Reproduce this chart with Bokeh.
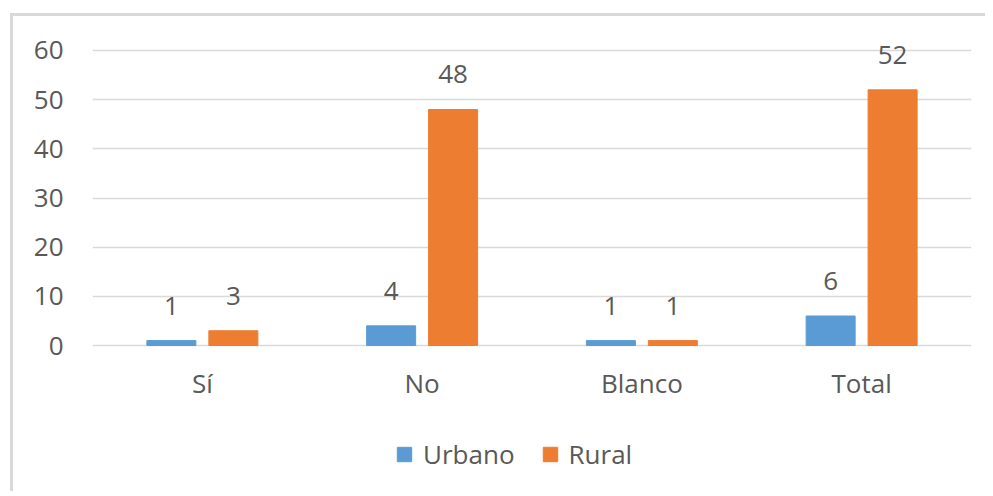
from bokeh.plotting import figure
from bokeh.models import FactorRange, Range1d, Legend, LegendItem, ColumnDataSource, LabelSet
from bokeh.transform import dodge
from bokeh.core.properties import value
from bokeh.embed import file_html
from bokeh.resources import INLINE

categories = ["Sí", "No", "Blanco", "Total"]
urbano = [1, 4, 1, 6]
rural = [3, 48, 1, 52]
y_ticks = [0, 10, 20, 30, 40, 50, 60]

FONT = "Open Sans"
TXT = "#595959"
FS = "26px"

src = ColumnDataSource(dict(cat=categories, urbano=urbano, rural=rural,
                            zero=[0] * len(categories),
                            ulab=[str(v) for v in urbano], rlab=[str(v) for v in rural]))

# Range extends beyond 0..60 to leave room for value labels, category labels and legend
p = figure(x_range=FactorRange(*categories, range_padding=0), y_range=Range1d(-30.3, 66.1),
           width=975, height=478, output_backend="svg", toolbar_location=None,
           x_axis_location=None, margin=(13, 0, 0, 10),
           min_border_left=79, min_border_right=17, min_border_top=4, min_border_bottom=0)
p.styles = {"border-left": "3px solid #d9d9d9", "border-top": "3px solid #d9d9d9"}
p.outline_line_color = None
p.background_fill_color = "white"

r1 = p.vbar(x=dodge("cat", -0.141, range=p.x_range), top="urbano", width=0.223,
            source=src, fill_color="#5B9BD5", line_color="#5B9BD5")
r2 = p.vbar(x=dodge("cat", 0.141, range=p.x_range), top="rural", width=0.223,
            source=src, fill_color="#ED7D31", line_color="#ED7D31")

for col, lab, off in (("urbano", "ulab", -0.141), ("rural", "rlab", 0.141)):
    ls = LabelSet(x=dodge("cat", off, range=p.x_range), y=col, text=lab, source=src,
                  text_align="center", text_baseline="bottom", y_offset=26,
                  text_font=value(FONT), text_font_size=value(FS), text_color=TXT)
    p.add_layout(ls)

# category labels under the baseline
cl = LabelSet(x="cat", y="zero", text="cat", source=src, text_align="center",
              text_baseline="middle", y_offset=-37,
              text_font=value(FONT), text_font_size=value(FS), text_color=TXT)
p.add_layout(cl)

p.yaxis.ticker = y_ticks
p.yaxis.axis_line_color = None
p.yaxis.major_tick_line_color = None
p.yaxis.minor_tick_line_color = None
p.yaxis.major_label_standoff = 23
p.yaxis.major_label_text_font = FONT
p.yaxis.major_label_text_font_size = FS
p.yaxis.major_label_text_color = TXT

p.xgrid.grid_line_color = None
p.ygrid.ticker = y_ticks
p.ygrid.grid_line_color = "#d9d9d9"
p.ygrid.grid_line_width = 1.5

legend = Legend(items=[LegendItem(label="Urbano", renderers=[r1]),
                       LegendItem(label="Rural", renderers=[r2])],
                orientation="horizontal", location=(303, 22),
                glyph_width=18, glyph_height=18, spacing=26, padding=0, margin=0,
                label_standoff=10, border_line_color=None, background_fill_alpha=0,
                label_text_font=FONT, label_text_font_size=FS, label_text_color=TXT)
p.add_layout(legend, "center")

open("out.html", "w").write(file_html(p, INLINE))
